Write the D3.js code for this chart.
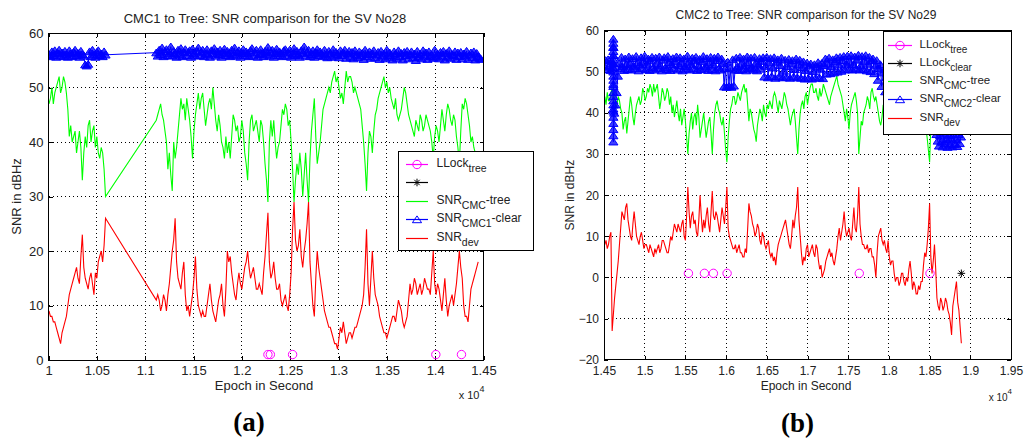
<!DOCTYPE html>
<html><head><meta charset="utf-8">
<script src="https://cdn.jsdelivr.net/npm/d3@7"></script>
<style>
html,body{margin:0;padding:0;background:#fff;}
svg{display:block;}
text{font-family:"Liberation Sans",Arial,Helvetica,sans-serif;fill:#222;}
</style></head><body>
<svg id="chart" width="1024" height="438"></svg>
<script>
// ================= Panel (a): CMC1 to Tree, SV No28 =================
const epochsA = d3.range(10005, 10591, 15).concat(d3.range(11115, 14446, 15));
const greenA = [47,48,50,47,49,50,51,52,49,50,52,51,49,46,41,43,40,41,42,38,40,42,39,33,38,41,39,43,44,40,42,43,39,41,38,37,39,38,35,30,
 44,45,46,47,45,44,42,40,35,38,34,31,40,37,39,42,45,48,46,47,
 44,48,46,44,41,37,42,45,47,49,46,48,49,46,43,45,47,48,46,50,
 47,44,42,45,43,40,39,37,41,38,40,37,41,45,44,42,43,40,41,44,
 42,38,36,33,40,44,45,42,43,44,42,40,44,43,40,36,33,29,40,44,
 41,44,40,37,39,40,43,46,45,47,46,43,44,40,35,29,33,36,34,38,
 35,30,34,38,33,29,37,42,45,48,41,36,38,40,43,46,47,48,49,50,
 49,51,52,53,51,52,50,48,49,47,50,53,51,52,52,51,49,50,49,48,
 47,46,43,40,36,31,38,42,41,38,42,45,46,48,49,50,51,52,50,51,
 49,50,48,47,46,48,45,44,45,46,48,50,49,47,45,44,43,42,41,44,
 43,42,45,44,42,43,45,44,43,42,40,37,41,43,42,40,43,46,44,42,
 45,47,46,44,43,45,44,41,39,36,42,47,46,48,47,45,43,40,41,39,
 38,37,38];
const redA = [9,8,8,7,7,6,5,4,3,5,6,7,8,10,12,13,14,15,16,17,15,14,19,23,17,15,14,13,15,16,14,12,16,15,18,19,20,18,21,26,
 11,12,11,9,10,12,11,9,12,14,17,20,22,26,18,15,14,13,16,18,
 12,9,10,8,10,12,15,19,13,10,9,8,9,8,8,10,12,14,11,9,
 8,7,9,11,12,14,10,8,13,20,18,19,16,14,12,11,14,16,14,13,
 15,17,18,20,17,15,16,17,15,13,13,14,13,12,16,19,23,27,18,15,
 16,18,15,13,13,14,11,10,11,12,10,9,12,16,24,29,22,20,21,24,
 19,17,20,22,25,29,18,14,10,8,15,20,17,15,13,11,9,8,7,6,
 6,5,4,3,3,2,4,6,5,7,5,3,4,5,5,4,5,6,6,7,
 8,9,10,12,17,24,14,10,15,20,15,12,11,10,8,7,6,5,5,4,
 5,6,7,8,8,7,9,11,10,9,7,6,7,8,11,14,12,13,15,14,
 12,13,14,12,13,15,14,13,13,12,16,20,14,12,14,13,11,9,12,15,
 11,8,10,11,12,10,12,14,17,20,17,15,10,8,8,7,10,13,14,15,
 16,17,18];
const blueEpochsA = d3.range(10005, 10591, 15).concat(d3.range(11115, 14476, 15));
const blueA = [
 56.1,55.7,56.6,55.9,56.8,55.6,56.3,56.9,55.8,56.4,
 55.7,56.7,56.0,55.6,56.8,56.2,55.7,56.5,56.9,55.9,
 56.3,55.6,56.7,56.1,55.8,54.2,54.0,54.3,56.6,55.7,
 56.9,56.0,55.6,56.5,56.8,55.9,56.2,55.7,56.6,56.0,
 56.4,55.8,56.9,56.1,57.3,55.7,56.6,57.0,55.9,56.3,57.5,55.8,56.7,56.2,55.6,
 56.9,56.0,57.2,55.7,56.5,57.0,55.9,56.4,56.8,55.6,57.1,56.2,55.8,56.7,57.3,
 55.9,56.5,56.9,55.7,56.2,57.0,56.0,55.6,56.8,56.3,57.2,55.8,56.6,56.1,56.9,
 55.6,56.4,57.1,55.9,56.7,56.2,55.7,56.9,56.0,57.3,55.8,56.5,56.8,55.6,56.3,
 57.0,55.9,56.6,56.2,55.7,56.8,57.2,55.8,56.4,56.9,55.6,56.1,57.0,56.3,55.7,
 56.7,56.0,57.4,55.8,56.5,56.9,55.6,56.3,57.1,55.9,56.6,56.2,55.7,56.8,57.0,
 55.8,56.4,56.9,55.6,56.2,57.2,55.9,56.7,56.0,55.6,56.8,56.3,57.5,55.8,56.5,
 56.9,55.7,56.1,56.8,55.6,56.4,57.0,55.9,56.6,56.2,55.7,56.9,56.0,55.5,56.7,
 56.3,55.6,57.0,55.8,56.5,56.1,55.5,56.8,55.9,56.4,56.9,55.4,56.2,56.7,55.6,
 56.5,55.3,56.8,56.0,55.5,56.6,55.8,56.3,55.2,56.9,55.7,56.1,56.6,55.4,56.2,
 56.8,55.5,56.0,56.5,55.2,56.7,55.8,56.2,55.3,56.9,55.6,56.4,55.9,55.1,56.6,
 56.2,55.4,56.8,55.7,56.3,55.1,56.5,55.9,56.7,55.3,56.0,56.6,55.5,56.2,55.0,
 56.7,55.6,56.1,55.3,56.8,55.8,56.4,55.2,56.6,55.7,56.0,55.4,56.9,55.6,56.2,
 55.3,56.5,55.8,56.7,55.1,56.3,55.6,56.8,55.4,56.1,55.9,56.6,55.2,56.4,55.7,
 56.5,55.3,56.2,55.8,56.7,55.2,56.0,56.4,55.5,56.6,55.1,56.3,55.7,55.4,55.2];
const llockTreeEpochsA = [12270, 12295, 12525, 14007, 14272];
const llockTreeValsA = [1, 1, 1, 1, 1];
const xTicksA = [10000,10500,11000,11500,12000,12500,13000,13500,14000,14500];
const xTickLabelsA = ["1","1.05","1.1","1.15","1.2","1.25","1.3","1.35","1.4","1.45"];
const yTicksA = [0,10,20,30,40,50,60];

// ================= Panel (b): CMC2 to Tree, SV No29 =================
const epochsB = d3.range(14510, 18891, 15);
const greenB = [
 44,42,45,43,43,45,46,43,44,41,42,44,43,41,40,36,38,39,35,38,41,44,42,39,37,40,42,43,44,42,43,46,45,43,44,46,45,47,46,44,
 47,45,46,47,44,41,43,46,45,43,44,46,45,42,44,40,42,39,41,43,40,38,41,37,39,41,38,34,30,35,38,40,36,39,40,37,42,39,34,36,
 38,40,37,34,36,38,39,35,30,36,40,42,43,41,40,38,37,39,35,31,28,34,38,41,42,44,44,42,43,45,44,43,45,46,47,45,46,42,38,41,
 40,38,36,35,33,37,39,41,40,38,42,40,39,42,41,43,42,41,44,45,44,42,40,43,42,41,43,45,44,42,41,39,37,39,40,41,38,34,30,36,
 40,42,43,41,44,45,42,44,46,47,47,45,45,46,44,43,46,44,45,47,46,45,44,43,42,44,45,46,47,48,49,47,46,45,44,42,40,38,41,39,
 36,40,42,43,44,45,43,40,30,34,38,37,40,41,42,44,43,41,45,46,44,43,44,42,40,38,37,39,42,40,43,44,41,43,44,45,42,43,45,44,
 44,42,43,44,41,42,44,43,42,41,40,42,43,41,42,43,44,42,41,40,40,39,38,36,34,31,28,37,42,39,36,38,40,42,41,40,39,41,40,38,
 39,41,42,44,46,40,38,36,37,40,41,44,48];
const redB = [
 8,9,7,8,10,11,-13,-9,-5,-2,1,4,8,12,16,15,14,17,18,14,12,10,9,13,16,13,10,9,8,10,11,9,7,8,8,7,6,8,7,6,
 5,7,6,7,8,6,7,9,9,8,7,6,6,8,10,9,11,13,12,11,13,12,11,13,14,10,9,15,22,16,12,15,16,13,14,11,10,14,20,15,
 11,14,12,15,17,13,11,16,21,15,14,16,15,13,11,14,17,15,13,17,22,12,10,9,8,7,7,8,6,7,8,6,6,5,5,7,6,12,18,16,
 15,13,12,10,11,13,12,9,8,11,10,8,7,8,9,6,5,6,4,5,3,6,8,9,10,11,12,13,14,12,10,8,7,10,14,12,15,17,22,14,
 10,6,3,5,4,7,8,5,6,7,8,6,5,8,7,4,2,3,0,1,2,4,5,6,7,5,6,4,3,5,7,10,12,9,11,13,16,12,10,11,
 12,10,9,13,17,12,11,15,22,13,10,8,8,7,7,8,6,7,7,5,5,3,0,6,10,11,12,9,8,9,7,6,9,5,3,4,4,1,-1,0,
 0,-2,-1,1,1,-1,-2,0,-1,2,4,1,-3,-1,-2,-4,-4,-2,-3,-1,-1,3,6,5,8,12,18,5,1,4,8,2,-5,-7,-8,-5,-6,-8,-7,-5,
 -6,-8,-9,-11,-14,-7,-5,-3,-1,-6,-8,-12,-16];
const blueEpochsB = d3.range(14505, 18896, 15);
const blueB = [
 51.2,52.8,50.6,53.0,51.5,50.4,52.6,51.0,40,42,45,49,52.0,50.8,53.6,51.3,50.4,53.2,51.8,50.6,
 53.7,52.0,50.5,53.3,51.4,50.8,53.8,52.2,50.3,51.7,53.5,50.9,52.4,53.9,50.6,51.9,53.2,50.4,52.7,53.6,
 51.1,50.5,53.4,52.1,50.8,53.7,51.5,50.3,52.9,53.5,51.0,50.6,53.8,52.3,50.4,51.8,53.3,50.9,52.6,53.7,
 50.5,51.6,53.5,52.0,50.3,53.2,51.3,50.7,53.9,52.4,50.5,51.9,53.4,50.8,52.7,53.6,50.4,51.5,53.1,50.6,
 52.5,53.8,50.9,51.4,53.3,50.4,52.2,53.6,50.6,51.8,53.4,50.3,52.8,53.7,51.0,50.5,53.2,52.1,46.4,50.8,
 46.3,52.4,46.5,51.0,46.3,53.0,46.6,50.5,53.4,51.2,50.4,53.6,52.0,50.6,53.2,51.5,50.3,53.7,52.3,50.8,
 53.4,51.0,50.5,53.6,52.1,50.3,51.8,53.3,50.7,52.6,53.5,48.8,51.4,53.6,48.6,52.2,53.3,48.9,51.0,53.5,
 48.5,52.4,53.0,48.8,51.6,53.4,48.6,50.2,52.9,48.7,51.3,53.1,48.5,52.0,52.8,48.8,50.6,53.2,48.6,51.7,
 52.9,48.5,51.1,52.5,48.3,50.4,52.2,48.4,51.5,52.0,48.3,50.1,51.8,48.5,51.2,52.3,48.6,50.7,52.1,48.4,
 51.6,53.2,49.5,52.0,53.4,49.6,51.3,53.0,49.8,52.5,53.5,50.0,51.7,53.6,50.2,52.8,53.8,50.5,51.9,53.9,
 50.6,52.4,54.0,50.5,51.8,53.7,50.7,52.9,54.1,50.5,51.5,53.8,50.6,52.6,54.0,50.3,51.9,53.6,50.1,52.7,
 53.2,49.6,51.5,52.8,48.0,50.9,51.8,46.5,49.8,50.6,45.2,48.7,49.5,44.6,47.8,48.9,44.2,47.0,48.2,44.0,
 46.8,47.9,43.8,46.5,47.6,43.5,46.0,47.2,43.2,45.8,46.9,42.8,45.5,46.6,42.5,45.3,46.4,42.3,45.0,46.2,
 42.6,45.2,46.5,43.0,45.8,46.6,45.0,43.5,41.0,39.0,37.0,35.5,34.8,33.2,32.0,34.5,33.0,31.8,34.9,32.5,
 33.6,31.7,34.6,32.2,33.9,31.8,34.7,32.4,33.5,31.9,34.8,32.6,34.2];
const blueSpikeEpochB = 14615;
const blueSpikeValsB = [52,54,56,58,57,56,55,54,53,52,51,50,49,48,47,46.5,45,44,43,42,41,40.5,39,37.5,36,34.5,33];
const llockTreeEpochsB = [15537, 15734, 15844, 16012, 17636, 18505];
const llockTreeValsB = [1, 1, 1, 1, 1, 1];
const llockClearEpochsB = [18890];
const llockClearValsB = [1];
const xTicksB = [14500,15000,15500,16000,16500,17000,17500,18000,18500,19000,19500];
const xTickLabelsB = ["1.45","1.5","1.55","1.6","1.65","1.7","1.75","1.8","1.85","1.9","1.95"];
const yTicksB = [-20,-10,0,10,20,30,40,50,60];

const COLORS = {tree:'#ff00ff', clear:'#000000', green:'#00ff00', blue:'#0000ff', red:'#ff0000'};

const svg = d3.select('#chart');
const triPath = 'M0,-3.6L4.6,3.2L-4.6,3.2Z';
const starPath = 'M-3.8,0H3.8M0,-3.8V3.8M-2.7,-2.7L2.7,2.7M-2.7,2.7L2.7,-2.7';

function drawPanel(c) {
  const g = svg.append('g');
  const x = d3.scaleLinear().domain(c.xDomain).range([c.left, c.right]);
  const y = d3.scaleLinear().domain(c.yDomain).range([c.bottom, c.top]);
  const clipId = 'clip-' + c.id;
  svg.append('clipPath').attr('id', clipId).append('rect')
    .attr('x', c.left).attr('y', c.top).attr('width', c.right - c.left).attr('height', c.bottom - c.top);

  const grid = g.append('g').attr('stroke', '#000').attr('stroke-width', 1)
    .attr('stroke-dasharray', '1,3').attr('shape-rendering', 'crispEdges');
  grid.selectAll('.gx').data(c.xTicks.slice(1, -1)).join('line')
    .attr('x1', d => x(d)).attr('x2', d => x(d)).attr('y1', c.top).attr('y2', c.bottom);
  grid.selectAll('.gy').data(c.yTicks.slice(1, -1)).join('line')
    .attr('y1', d => y(d)).attr('y2', d => y(d)).attr('x1', c.left).attr('x2', c.right);

  const fmtX = d => c.xTickLabels[c.xTicks.indexOf(d)];
  const ax = g.append('g').attr('transform', `translate(0,${c.bottom})`)
    .call(d3.axisBottom(x).tickValues(c.xTicks).tickFormat(fmtX).tickSizeInner(-4).tickSizeOuter(0).tickPadding(c.xPad));
  const ay = g.append('g').attr('transform', `translate(${c.left},0)`)
    .call(d3.axisLeft(y).tickValues(c.yTicks).tickFormat(d3.format('d')).tickSizeInner(-4).tickSizeOuter(0).tickPadding(5));
  const at = g.append('g').attr('transform', `translate(0,${c.top})`)
    .call(d3.axisTop(x).tickValues(c.xTicks).tickFormat('').tickSizeInner(-4).tickSizeOuter(0));
  const ar = g.append('g').attr('transform', `translate(${c.right},0)`)
    .call(d3.axisRight(y).tickValues(c.yTicks).tickFormat('').tickSizeInner(-4).tickSizeOuter(0));
  [ax, ay, at, ar].forEach(a => {
    a.select('.domain').remove();
    a.attr('font-size', c.fs).attr('font-family', '"Liberation Sans",Arial,sans-serif');
    a.selectAll('line').attr('shape-rendering', 'crispEdges');
    a.selectAll('text').attr('fill', '#222');
  });

  const plot = g.append('g').attr('clip-path', `url(#${clipId})`);
  const line = d3.line().x(d => x(d[0])).y(d => y(d[1]));

  plot.append('path').datum(d3.zip(c.epochs, c.green)).attr('d', line)
    .attr('fill', 'none').attr('stroke', COLORS.green).attr('stroke-width', 1.1);

  let bpts = d3.zip(c.blueEpochs, c.blue);
  if (c.spikeVals) bpts = bpts.concat(c.spikeVals.map(v => [c.spikeEpoch, v]));
  bpts.sort((a, b) => a[0] - b[0]);
  plot.append('path').datum(bpts).attr('d', line)
    .attr('fill', 'none').attr('stroke', COLORS.blue).attr('stroke-width', 1);
  plot.append('g').selectAll('path').data(bpts).join('path')
    .attr('d', triPath).attr('transform', d => `translate(${x(d[0])},${y(d[1])})`)
    .attr('fill', COLORS.blue).attr('fill-opacity', 0.75)
    .attr('stroke', COLORS.blue).attr('stroke-width', 1);

  plot.append('path').datum(d3.zip(c.epochs, c.red)).attr('d', line)
    .attr('fill', 'none').attr('stroke', COLORS.red).attr('stroke-width', 1.1);

  plot.append('g').selectAll('circle').data(d3.zip(c.treeEpochs, c.treeVals)).join('circle')
    .attr('cx', d => x(d[0])).attr('cy', d => y(d[1])).attr('r', 4.2)
    .attr('fill', 'none').attr('stroke', COLORS.tree).attr('stroke-width', 1);

  if (c.clearEpochs) {
    plot.append('g').selectAll('path').data(d3.zip(c.clearEpochs, c.clearVals)).join('path')
      .attr('d', starPath).attr('transform', d => `translate(${x(d[0])},${y(d[1])})`)
      .attr('fill', 'none').attr('stroke', COLORS.clear).attr('stroke-width', 1);
  }

  g.append('rect').attr('x', c.left).attr('y', c.top).attr('width', c.right - c.left).attr('height', c.bottom - c.top)
    .attr('fill', 'none').attr('stroke', '#000').attr('stroke-width', 1).attr('shape-rendering', 'crispEdges');

  g.append('text').attr('x', c.titleX).attr('y', c.titleY).attr('text-anchor', 'middle')
    .attr('font-size', c.fs).text(c.title);
  g.append('text').attr('x', c.xLabelX).attr('y', c.xLabelY).attr('text-anchor', 'middle')
    .attr('font-size', c.fs).text('Epoch in Second');
  g.append('text').attr('transform', `translate(${c.yLabelX},${(c.top + c.bottom) / 2}) rotate(-90)`)
    .attr('text-anchor', 'middle').attr('font-size', c.fs).text('SNR in dBHz');
  const mult = g.append('text').attr('x', c.right + 1).attr('y', c.multY).attr('text-anchor', 'end').attr('font-size', c.fs - 2);
  mult.append('tspan').text('x 10');
  mult.append('tspan').attr('dy', -7).attr('font-size', c.fs - 4).text('4');
  g.append('text').attr('x', c.tagX).attr('y', c.tagY).attr('text-anchor', 'middle')
    .attr('font-size', 27).attr('font-weight', 'bold')
    .style('font-family', '"Liberation Serif","Times New Roman",serif').style('fill', '#000').text(c.tag);

  const L = c.legend;
  const lg = g.append('g');
  lg.append('rect').attr('x', L.x0).attr('y', L.y0).attr('width', L.x1 - L.x0).attr('height', L.y1 - L.y0)
    .attr('fill', '#fff').attr('stroke', '#000').attr('stroke-width', 1).attr('shape-rendering', 'crispEdges');
  L.items.forEach((it, i) => {
    const cy = Math.round(L.rowY + i * L.rowH) + 0.5;
    const mx = (L.lx0 + L.lx1) / 2;
    lg.append('line').attr('x1', L.lx0).attr('x2', L.lx1).attr('y1', cy).attr('y2', cy)
      .attr('stroke', it.color).attr('stroke-width', 1.2);
    if (it.marker === 'circle') lg.append('circle').attr('cx', mx).attr('cy', cy).attr('r', 4.2)
      .attr('fill', 'none').attr('stroke', it.color);
    if (it.marker === 'star') lg.append('path').attr('d', starPath).attr('transform', `translate(${mx},${cy})`)
      .attr('fill', 'none').attr('stroke', it.color);
    if (it.marker === 'tri') lg.append('path').attr('d', triPath).attr('transform', `translate(${mx},${cy})`)
      .attr('fill', 'none').attr('stroke', it.color);
    const t = lg.append('text').attr('x', L.tx).attr('y', cy + 2.5).attr('font-size', L.fs);
    if (it.main) t.append('tspan').text(it.main);
    if (it.sub) t.append('tspan').attr('dy', 5).attr('font-size', L.subFs).text(it.sub);
    if (it.after) t.append('tspan').attr('dy', -5).text(it.after);
  });
}

drawPanel({
  id: 'a', left: 48.5, right: 483.5, top: 33, bottom: 360, xDomain: [10000, 14500], yDomain: [0, 60],
  xTicks: xTicksA, xTickLabels: xTickLabelsA, yTicks: yTicksA, fs: 13, xPad: 6,
  epochs: epochsA, green: greenA, red: redA, blueEpochs: blueEpochsA, blue: blueA,
  treeEpochs: llockTreeEpochsA, treeVals: llockTreeValsA,
  title: 'CMC1 to Tree: SNR comparison for the SV No28', titleX: 265, titleY: 22.5,
  xLabelX: 264, xLabelY: 390, yLabelX: 21, multY: 399, tag: '(a)', tagX: 249, tagY: 431,
  legend: {x0: 398.5, y0: 151.5, x1: 533.5, y1: 250.5, rowY: 163.5, rowH: 18.5, lx0: 406, lx1: 428, tx: 436.5, fs: 12, subFs: 10.5,
    items: [
      {color: COLORS.tree, marker: 'circle', main: 'LLock', sub: 'tree'},
      {color: COLORS.clear, marker: 'star'},
      {color: COLORS.green, main: 'SNR', sub: 'CMC', after: '-tree'},
      {color: COLORS.blue, marker: 'tri', main: 'SNR', sub: 'CMC1', after: '-clear'},
      {color: COLORS.red, main: 'SNR', sub: 'dev'}
    ]}
});

drawPanel({
  id: 'b', left: 604, right: 1011, top: 30.7, bottom: 359.7, xDomain: [14500, 19500], yDomain: [-20, 60],
  xTicks: xTicksB, xTickLabels: xTickLabelsB, yTicks: yTicksB, fs: 12, xPad: 6.5,
  epochs: epochsB, green: greenB, red: redB, blueEpochs: blueEpochsB, blue: blueB,
  spikeEpoch: blueSpikeEpochB, spikeVals: blueSpikeValsB,
  treeEpochs: llockTreeEpochsB, treeVals: llockTreeValsB, clearEpochs: llockClearEpochsB, clearVals: llockClearValsB,
  title: 'CMC2 to Tree: SNR comparison for the SV No29', titleX: 806, titleY: 18.8,
  xLabelX: 806, xLabelY: 390, yLabelX: 573.5, multY: 401, tag: '(b)', tagX: 797.5, tagY: 432,
  legend: {x0: 883.5, y0: 31.5, x1: 1011.5, y1: 134.5, rowY: 44.5, rowH: 18.3, lx0: 888, lx1: 912, tx: 919.5, fs: 11.5, subFs: 10,
    items: [
      {color: COLORS.tree, marker: 'circle', main: 'LLock', sub: 'tree'},
      {color: COLORS.clear, marker: 'star', main: 'LLock', sub: 'clear'},
      {color: COLORS.green, main: 'SNR', sub: 'CMC', after: '-tree'},
      {color: COLORS.blue, marker: 'tri', main: 'SNR', sub: 'CMC2', after: '-clear'},
      {color: COLORS.red, main: 'SNR', sub: 'dev'}
    ]}
});
</script>
</body></html>
